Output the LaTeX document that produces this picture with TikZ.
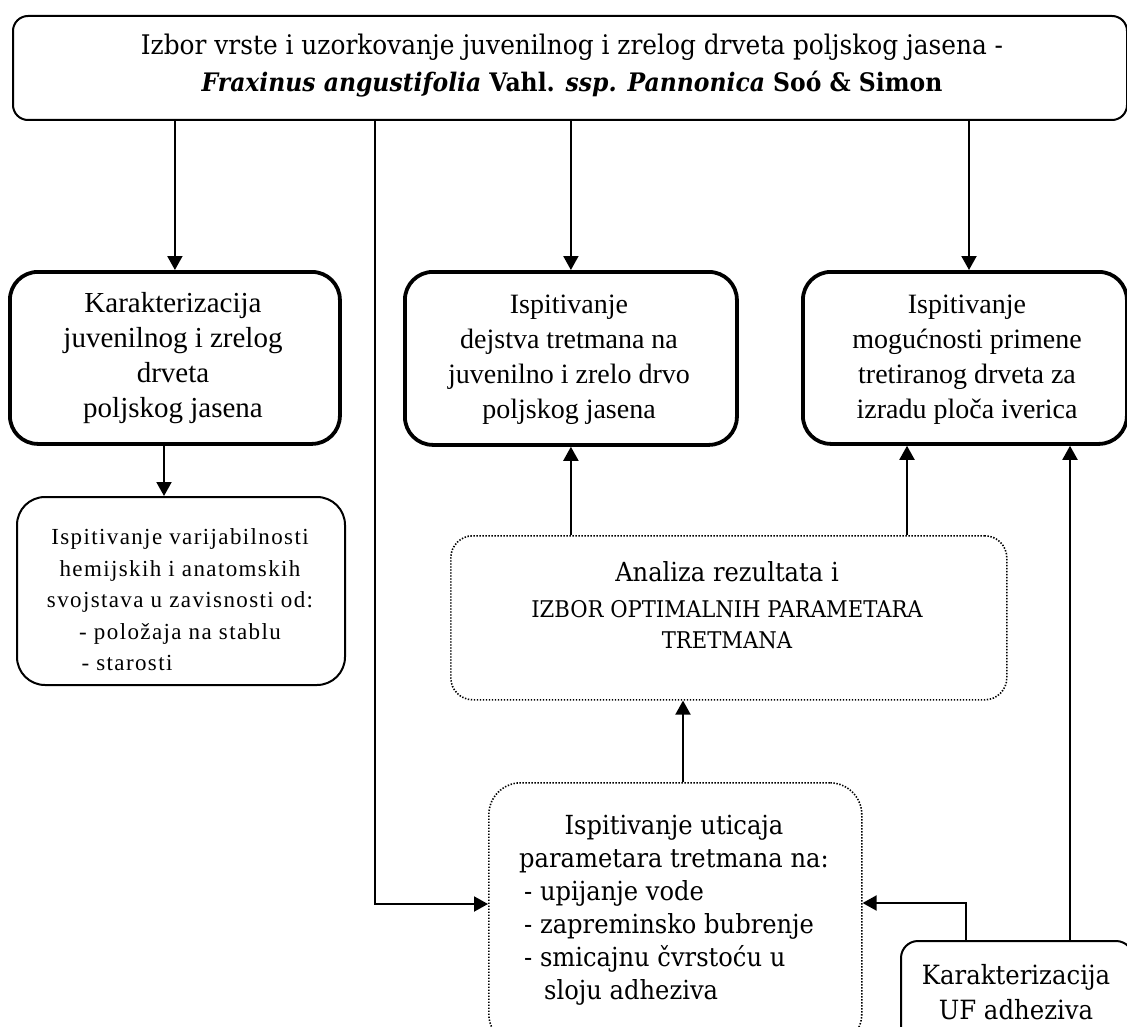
\documentclass[tikz,border=0pt]{standalone}
\usepackage{fontspec}
\setmainfont{Liberation Serif}
\newfontfamily\camb[FakeStretch=0.92]{DejaVu Serif}
\newfontfamily\spc[LetterSpace=6]{Liberation Serif}
\usetikzlibrary{arrows.meta}
\begin{document}
\begin{tikzpicture}[x=1pt,y=-1pt,
 boxthin/.style={draw,line width=2pt,inner sep=0pt,anchor=north west},
 boxthick/.style={draw,line width=3.8pt,rounded corners=28pt,inner sep=0pt,anchor=north west},
 boxdot/.style={draw,line width=1.6pt,dash pattern=on 1.4pt off 1.6pt,inner sep=0pt,anchor=north west},
 txt/.style={inner sep=0pt,align=center},
 conn/.style={line width=2pt,-{Triangle[length=14pt,width=15pt]}}
]
\useasboundingbox (0,0) rectangle (1127,1027);
\fill[white] (0,0) rectangle (1127,1027);
\clip (0,0) rectangle (1127,1027);

% boxes
\node[boxthin,rounded corners=15pt,minimum width=1114pt,minimum height=104pt] (T) at (12,15) {};
\node[boxthick,minimum width=330pt,minimum height=172pt] (A) at (8,270) {};
\node[boxthick,minimum width=332pt,minimum height=173pt] (B) at (403,270) {};
\node[boxthick,minimum width=324pt,minimum height=172pt] (C) at (801,270) {};
\node[boxthin,rounded corners=28pt,minimum width=328pt,minimum height=188pt] (D) at (16,496) {};
\node[boxdot,rounded corners=22pt,minimum width=556pt,minimum height=164pt] (E) at (450,535) {};
\node[boxdot,rounded corners=32pt,minimum width=373pt,minimum height=263pt] (F) at (488,782) {};
\node[boxthin,rounded corners=17pt,minimum width=232pt,minimum height=105pt] (G) at (900,940) {};

% texts
\node[txt,font=\camb\fontsize{27}{37}\selectfont] (Tt) at (572,66) {Izbor vrste i uzorkovanje juvenilnog i zrelog drveta poljskog jasena -\\ {\fontsize{25.5}{37}\selectfont\textbf{\textit{Fraxinus angustifolia} Vahl. \textit{ssp.} \textit{Pannonica} Soó \& Simon}}};
\node[txt,font=\fontsize{29}{35}\selectfont] (At) at (173,358) {Karakterizacija\\juvenilnog i zrelog\\drveta\\poljskog jasena};
\node[txt,font=\fontsize{28}{35}\selectfont] (Bt) at (569,360) {Ispitivanje\\dejstva tretmana na\\juvenilno i zrelo drvo\\poljskog jasena};
\node[txt,font=\fontsize{28}{35}\selectfont] (Ct) at (967,360) {Ispitivanje\\mogućnosti primene\\tretiranog drveta za\\izradu ploča iverica};
\node[txt,font=\spc\fontsize{23}{31.5}\selectfont] (Dt) at (180,600) {Ispitivanje varijabilnosti\\hemijskih i anatomskih\\svojstava u zavisnosti od:\\- položaja na stablu\\- starosti\rule{106pt}{0pt}};
\node[txt,font=\camb\fontsize{23}{31}\selectfont] (Et) at (727,605) {{\fontsize{26.3}{31}\selectfont Analiza rezultata i}\\[5pt]IZBOR OPTIMALNIH PARAMETARA\\TRETMANA};
\node[txt,font=\camb\fontsize{26.3}{33}\selectfont] (Ft) at (674,910) {\begin{tabular}{@{}l@{}}\multicolumn{1}{@{}c@{}}{Ispitivanje uticaja}\\ parametara tretmana na:\\ \hspace{5pt}- upijanje vode\\ \hspace{5pt}- zapreminsko bubrenje\\ \hspace{5pt}- smicajnu čvrstoću u\\ \hspace{25pt}sloju adheziva\end{tabular}};
\node[txt,font=\camb\fontsize{26.5}{35}\selectfont] (Gt) at (1016,992) {Karakterizacija\\UF adheziva};

% connectors
\coordinate (ad) at (164,0);
\coordinate (tc) at (969,0);
\coordinate (lx) at (375,904);
\coordinate (ec) at (907,0);
\coordinate (fe) at (683,0);
\coordinate (gf) at (966,903);
\coordinate (gc) at (1070,0);
\draw[conn] (T.south -| A.north) -- (A.north);
\draw[conn] (T.south -| B.north) -- (B.north);
\draw[conn] (T.south -| tc) -- (C.north -| tc);
\draw[conn] (T.south -| lx) -- (lx) -- (F.west |- lx);
\draw[conn] (A.south -| ad) -- (D.north -| ad);
\draw[conn] (E.north -| B.south) -- (B.south);
\draw[conn] (E.north -| ec) -- (C.south -| ec);
\draw[conn] (F.north -| fe) -- (E.south -| fe);
\draw[conn] (G.north -| gf) -- (gf) -- (F.east |- gf);
\draw[conn] (G.north -| gc) -- (C.south -| gc);
\end{tikzpicture}
\end{document}
